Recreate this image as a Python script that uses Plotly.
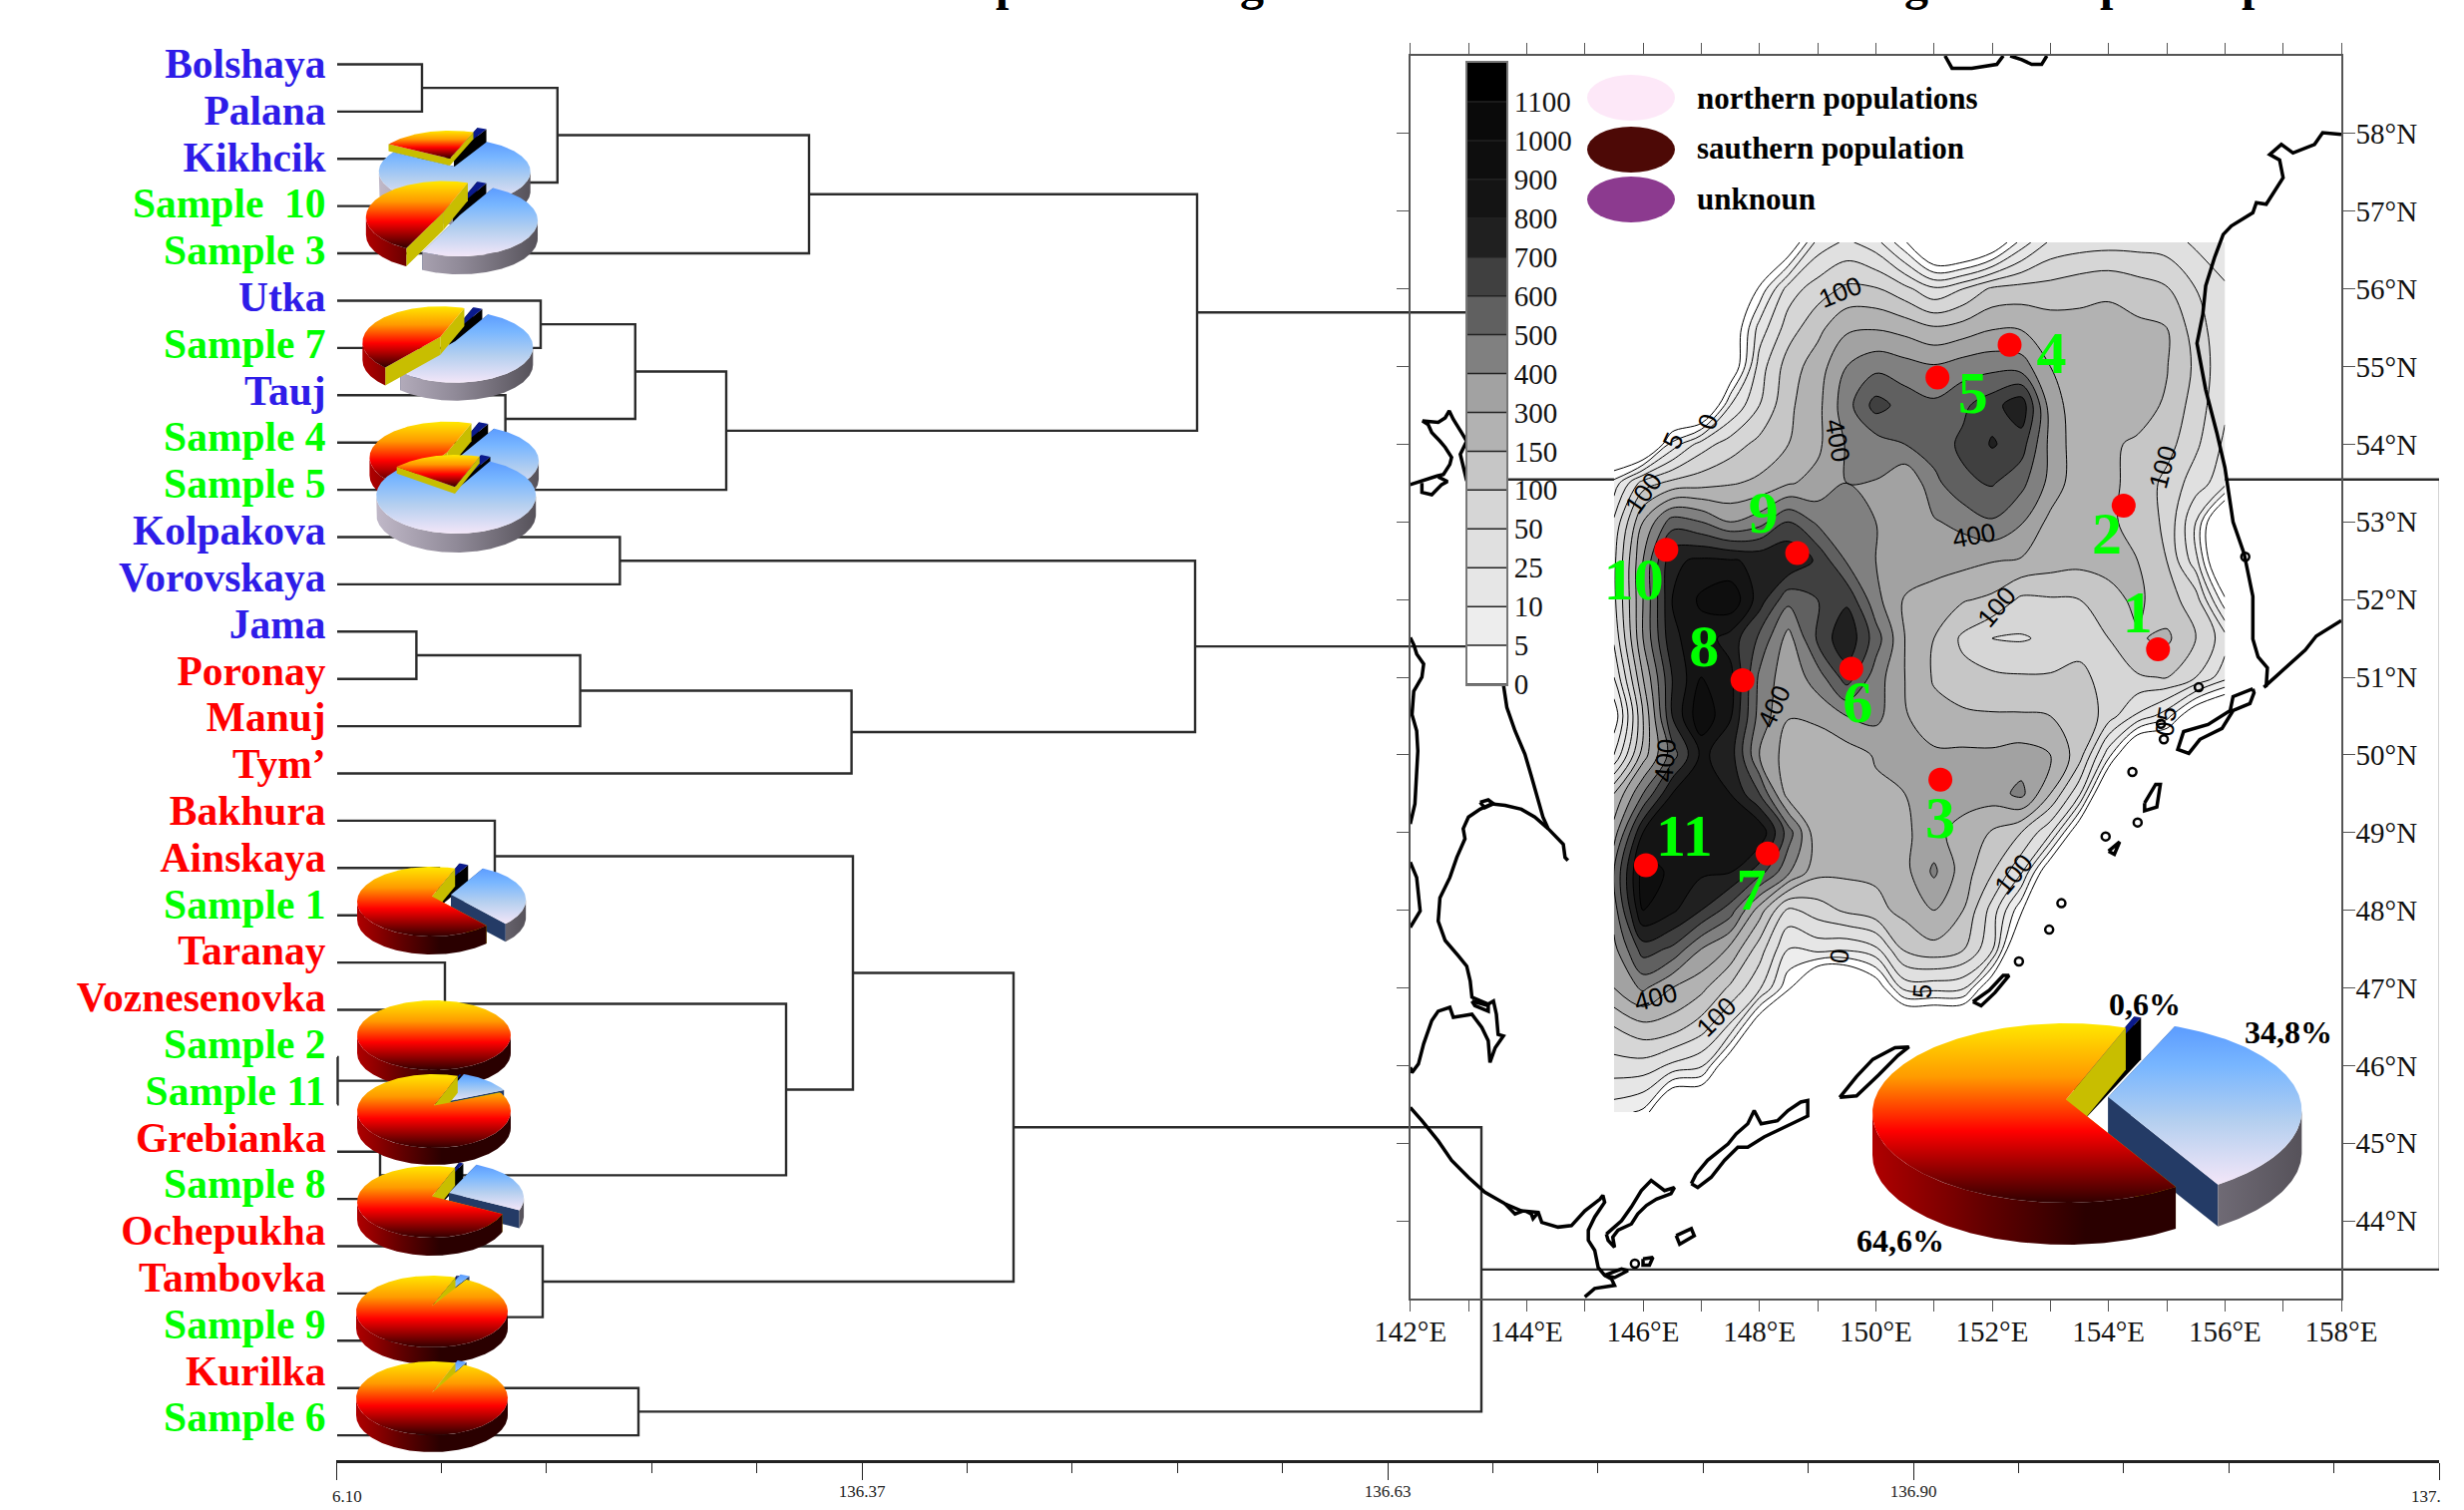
import math
import plotly.graph_objects as go

# ---------- dendrogram data ----------
LEAVES = ["Bolshaya","Palana","Kikhcik","Sample\u00a0 10","Sample 3","Utka","Sample 7","Tauj","Sample 4","Sample 5",
          "Kolpakova","Vorovskaya","Jama","Poronay","Manuj","Tym\u2019","Bakhura","Ainskaya","Sample 1","Taranay",
          "Voznesenovka","Sample 2","Sample 11","Grebianka","Sample 8","Ochepukha","Tambovka","Sample 9","Kurilka","Sample 6"]
LEAF_GROUP = ["n","n","n","s","s","n","s","n","s","s","n","n","n","r","r","r","r","r","s","r",
              "r","s","s","r","s","r","r","s","r","s"]
LEAF_BASE = 136.1005
# (left child, right child, distance); children: leaf index (int) or earlier merge ("m<k>")
MERGES = [
 (0,1,136.143),(2,3,136.1815),("m0","m1",136.2109),("m2",4,136.337),
 (5,6,136.2025),(7,8,136.1848),("m4","m5",136.2499),("m6",9,136.2955),
 ("m3","m7",136.5315),
 (10,11,136.2422),(12,13,136.1402),("m10",14,136.2223),("m11",15,136.3583),("m9","m12",136.5305),
 ("m8","m13",136.6715),
 (17,18,136.1515),(16,"m15",136.1795),(21,22,136.10075),(20,"m17",136.1465),(19,"m18",136.1545),
 (23,24,136.122),("m19","m20",136.3255),("m16","m21",136.359),
 (26,27,136.1665),(25,"m23",136.2035),("m22","m24",136.4395),
 (28,29,136.2515),("m25","m26",136.674),
 ("m14","m27",137.1545),
]
AXIS_MAJOR = [136.10,136.3635,136.627,136.8905,137.154]
AXIS_MINOR = [136.1527,136.2054,136.2581,136.3108,136.4162,136.4689,136.5216,136.5743,
              136.6797,136.7324,136.7851,136.8378,136.9432,136.9959,137.0486,137.1013]
AXIS_LABELS = ["","136.37","136.63","136.90",""]

# ---------- density field (level index: 0=0,1=5,2=10,3=25,4=50,5=100,6=150,7=300,8=400 ... 15=1100) ----------
LEVEL_LABELS = ["0","5","10","25","50","100","150","300","400","500","600","700","800","900","1000","1100"]
GRID_LON = [145.5+0.5*i for i in range(22)]
GRID_LAT = [56.6,56,55.5,55,54.5,54,53.5,53,52.5,52,51.5,51,50.5,50,49.5,49,48.5,48,47.5,47,46.5,46,45.4]
_ = -3
FIELD = [
[_,_,_,_,_,_,-1.5,2.4,3.2,2.4,0.2,_,_,-1.5,1.4,3.2,3.5,3.6,3.6,3.5,2.8,2],
[_,_,_,_,_,0.2,3.5,4.5,5.2,5.1,4.3,3.2,4,5.2,5.4,5.4,5.7,5.9,5.5,5.1,4,3.2],
[_,_,_,_,-1.5,2.4,4.5,5.7,6.8,6.9,6.6,6.1,6.4,6.9,6.9,6.5,6.3,6.2,6.2,6,4.5,3.2],
[_,_,_,_,-1.5,3.5,5.5,6.5,8,8.7,8.4,8.1,8.5,8.7,8.5,7,6.5,6.3,6.2,6.05,4.8,3.2],
[_,_,_,_,2,4,5.8,6.7,8.6,10.4,9.6,9.2,9.8,10.6,11.7,7.5,6.4,6.2,6.3,5.9,4.5,3.2],
[_,_,1.4,3.5,4.5,5.3,6,6.8,8.1,8.5,9,9.5,10.2,11.1,10.5,7.7,6.4,6.1,5.9,5.4,4.2,2.8],
[1.4,4.5,5.3,5.6,5.9,6.2,6.9,7.3,8,7.95,7.05,8.7,9.8,10.1,9.3,7.7,6.3,6.2,5.7,4.7,3.5,2.4],
[3.2,7,9.5,9,8,8.6,10,8.8,8.4,8,7.6,7.9,8.3,8.9,8.1,6.7,6.2,6.2,5.6,4.8,2,_],
[3.75,8,11.8,12.2,12.1,11.8,12,10.8,8.9,8,7.6,7.4,7.3,7.05,6.9,6.5,6.3,6.3,6.0,5.0,2.4,_],
[3.75,8,12,13.2,13.8,11.5,9.3,10,10.8,8.3,6.9,6.6,6.1,5.8,4.8,4.9,5,5.7,6.2,5.4,4.5,0.2],
[3.2,8,11.8,12.5,11.6,9.8,7.6,10.2,11.8,9.5,7,6,4.8,4,3.9,4.2,4.7,5,5.9,6.2,5,3.5],
[2,7,11,13,12.3,8.8,7.3,8.5,10.5,8.5,7,5.9,5.3,5.2,5.1,5.1,5.2,4.7,4.9,5.05,4,2.4],
[0.2,6,11,13.8,12.1,8.6,7.05,7.3,8,8.3,7.1,6.3,6.2,6.1,6.1,6,5.9,4.5,2.8,1.4,-1.5,_],
[2,6.5,9.5,12.2,11.5,8,6.5,6.1,6.5,7.1,7.3,7.2,7.2,7.2,7.4,7,5.5,1.4,_,_,_,_],
[6,9,12,13,12,10,6.5,6.4,6.5,6.8,7,7.2,7.5,7.5,8.3,6,3.2,_,_,_,_,_],
[7.5,12,12.6,12,12.4,12.8,9.5,6.2,6.3,6.5,6.9,7.3,6.6,5.9,5,3.2,-1.5,_,_,_,_,_],
[9,13.5,12.8,12.2,12.1,10.5,8.2,6.3,6.2,6.2,6.7,8.2,6.5,5.1,3.2,-1.5,_,_,_,_,_,_],
[8.5,13,12.2,11,9.5,6.5,3.75,4.5,5.2,5.7,6.3,7,6,3.6,0.2,_,_,_,_,_,_,_],
[7.7,10.5,9.8,8,6.8,4.5,2,2.4,2.2,2.8,5.2,5.7,5.1,3.2,_,_,_,_,_,_,_,_],
[7,8.2,7,6.3,4.8,3.2,0.2,_,_,-1,2.4,2.4,2.2,-1.5,_,_,_,_,_,_,_,_],
[5,5.7,5.5,4.5,2.8,-1.5,_,_,_,_,_,_,_,_,_,_,_,_,_,_,_,_],
[3.6,3.6,2.8,2.2,-1.5,_,_,_,_,_,_,_,_,_,_,_,_,_,_,_,_,_],
[1.4,0.8,_,_,_,_,_,_,_,_,_,_,_,_,_,_,_,_,_,_,_,_],
]
BAND_COLORS = ["rgba(255,255,255,0)","#FFFFFF","#EDEDED","#E6E6E6","#E0E0E0","#D6D6D6","#C6C6C6","#B2B2B2","#A2A2A2",
               "#808080","#606060","#404040","#202020","#141414","#0E0E0E","#0A0A0A","#000000"]

# ---------- sampling stations ----------
ST_LABEL = ["1","2","3","4","5","6","7","8","9","10","11"]
ST_LON = [154.85,154.26,151.11,152.3,151.06,149.58,148.14,147.71,148.65,146.4,146.05]
ST_LAT = [51.36,53.21,49.68,55.28,54.86,51.11,48.73,50.96,52.6,52.64,48.58]
NUM_LON = [154.5,153.97,151.11,153.02,151.67,149.69,147.86,147.05,148.07,145.84,146.71]
NUM_LAT = [51.77,52.78,49.12,55.11,54.59,50.61,48.2,51.33,53.05,52.2,48.9]

# ---------- coast lines (lon, lat) ----------
COASTS = [
 [(142.0,53.48),(142.2,53.53),(142.46,53.59),(142.57,53.61),(142.68,53.74),(142.71,53.83),(142.6,53.96),(142.51,54.04),(142.37,54.15),(142.31,54.25),(142.21,54.30),(142.48,54.28),(142.6,54.34),(142.67,54.43),(142.74,54.32),(142.88,54.15),(142.97,54.04),(142.86,53.87),(142.91,53.70),(142.97,53.53)],
 [(142.2,53.5),(142.2,53.38),(142.37,53.35),(142.54,53.48),(142.64,53.52),(142.48,53.58)],
 [(142.0,51.51),(142.06,51.42),(142.11,51.30),(142.23,51.17),(142.2,51.0),(142.06,50.82),(142.03,50.52),(142.11,50.31),(142.13,50.05),(142.11,49.71),(142.08,49.37),(142.0,49.11)],
 [(142.0,48.62),(142.11,48.42),(142.17,47.99),(142.0,47.78)],
 [(143.6,50.91),(143.66,50.61),(143.8,50.31),(143.97,50.01),(144.08,49.73),(144.17,49.49),(144.28,49.2),(144.37,49.05),(144.63,48.85),(144.66,48.68),(144.71,48.64)],
 [(144.37,49.05),(144.14,49.2),(143.91,49.3),(143.63,49.35),(143.4,49.37),(143.2,49.3),(143.0,49.2),(142.91,49.05),(142.94,48.92),(142.8,48.68),(142.68,48.42),(142.51,48.16),(142.48,47.86),(142.6,47.61),(142.83,47.41),(142.97,47.28),(143.03,47.09),(143.06,46.88),(143.34,46.79),(143.43,46.83),(143.48,46.66),(143.51,46.4),(143.6,46.38),(143.46,46.23),(143.37,46.04),(143.34,46.32),(143.23,46.49),(143.11,46.6),(143.06,46.66),(142.74,46.62),(142.68,46.75),(142.48,46.7),(142.37,46.58),(142.23,46.28),(142.14,46.02),(142.03,45.91),(142.0,45.98)],
 [(143.2,49.39),(143.34,49.42),(143.43,49.37),(143.28,49.32),(143.2,49.39)],
 [(143.06,46.83),(143.34,46.77),(143.34,46.7),(143.11,46.77),(143.06,46.83)],
 [(142.0,45.46),(142.2,45.29),(142.48,45.03),(142.71,44.78),(143.0,44.56),(143.28,44.37),(143.63,44.22),(143.91,44.13),(144.2,44.11),(144.26,43.98),(144.54,43.92),(144.77,43.94),(145.0,44.13),(145.26,44.28),(145.31,44.33),(145.34,44.24),(145.17,44.05),(145.06,43.88),(145.06,43.75),(145.17,43.62),(145.23,43.4),(145.34,43.3),(145.46,43.25),(145.51,43.17),(145.17,43.13),(145.0,43.02)],
 [(143.63,44.22),(143.68,44.18),(143.8,44.09),(143.94,44.13)],
 [(144.0,44.12),(144.08,44.09),(144.11,44.03),(144.2,44.11)],
 [(145.34,43.3),(145.63,43.38),(145.74,43.36),(145.51,43.27),(145.34,43.3)],
 [(145.37,43.83),(145.63,44.0),(145.8,44.18),(145.97,44.39),(146.14,44.52),(146.37,44.39),(146.54,44.43),(146.48,44.35),(146.23,44.28),(146.06,44.2),(145.91,44.09),(145.8,43.96),(145.57,43.88),(145.48,43.79),(145.51,43.66),(145.4,43.75),(145.37,43.83)],
 [(146.83,44.48),(146.91,44.6),(147.11,44.78),(147.46,44.99),(147.6,45.12),(147.8,45.25),(147.91,45.42),(148.03,45.25),(148.31,45.29),(148.49,45.42),(148.71,45.53),(148.83,45.55),(148.83,45.35),(148.43,45.2),(148.08,45.08),(147.8,44.95),(147.63,44.95),(147.4,44.78),(147.17,44.56),(146.94,44.43),(146.83,44.48)],
 [(149.38,45.59),(149.67,45.86),(149.95,46.08),(150.33,46.23),(150.57,46.24),(150.38,46.13),(150.05,45.88),(149.67,45.61),(149.38,45.59)],
 [(146.57,43.81),(146.83,43.9),(146.88,43.81),(146.63,43.7),(146.57,43.81)],
 [(146.0,43.51),(146.17,43.53),(146.11,43.43),(146.0,43.43),(146.0,43.51)],
 [(151.67,46.82),(151.95,46.97),(152.19,47.16),(152.29,47.16),(152.05,46.94),(151.81,46.77),(151.67,46.82)],
 [(154.0,48.76),(154.19,48.88),(154.1,48.72),(154.0,48.76)],
 [(154.62,49.38),(154.81,49.62),(154.89,49.62),(154.83,49.33),(154.62,49.28),(154.62,49.38)],
 [(151.19,59.0),(151.31,58.84),(151.65,58.84),(152.08,58.89),(152.19,59.0)],
 [(152.31,59.0),(152.51,58.95),(152.68,58.89),(152.85,58.89),(152.94,59.0)],
 [(158.0,57.99),(157.68,58.01),(157.54,57.86),(157.17,57.75),(156.97,57.86),(156.77,57.73),(156.94,57.66),(157.0,57.43),(156.71,57.09),(156.54,57.11),(156.48,56.98),(156.11,56.81),(155.97,56.7),(155.82,56.4),(155.67,56.04),(155.62,55.67),(155.52,55.3),(155.67,54.7),(155.86,54.15),(156.0,53.7),(156.14,53.0),(156.33,52.59),(156.48,52.04),(156.48,51.49),(156.57,51.26),(156.73,51.12),(156.71,50.89),(156.67,50.87),(157.38,51.35),(157.57,51.53),(158.0,51.73)],
 [(156.48,50.85),(156.14,50.75),(156.09,50.57),(155.71,50.39),(155.29,50.3),(155.19,50.07),(155.38,50.02),(155.57,50.2),(155.95,50.34),(156.14,50.57),(156.43,50.66),(156.5,50.8),(156.48,50.85)],
]
ISLET_LON = [152.46,152.98,153.19,154.5,154.41,153.95,155.55,154.9,154.95,156.35,145.86]
ISLET_LAT = [47.34,47.75,48.09,49.13,49.78,48.95,50.87,50.4,50.2,52.55,43.45]

# ---------- pie shares ----------
PIE_NAMES = ["Sample 10","Sample 3","Sample 7","Sample 4","Sample 5","Sample 1","Sample 2","Sample 11","Sample 8","Sample 9","Sample 6","All"]
PIE_SOUTH = [0.20,0.47,0.425,0.45,0.18,0.68,1.0,0.885,0.745,0.975,0.98,0.646]
PIE_UNKN  = [0.02,0.02,0.02,0.02,0.02,0.02,0.0,0.005,0.01,0.005,0.0,0.006]
PIE_NORTH = [0.78,0.51,0.555,0.53,0.80,0.30,0.0,0.11,0.245,0.02,0.02,0.348]

# placement of pies in page pixels: cx, cy, rx, ry, depth, explode north, explode south
PIE_PLACE = [
 (451,164,76,33,20,0.25,0.0),(452,219,78,36,18,0.13,0.10),(448,345,78,36,18,0.13,0.10),(454,460,78,36,18,0.12,0.08),
 (456,494,80,38,19,0.08,0.0),(433,904,75,35,18,0.26,0.0),(435,1038,77,35,18,0,0),(435,1114,77,37,17,0.08,0),
 (433,1205,75,36,18,0.25,0),(433,1315,76,36,17,0.1,0),(433,1402,76,37,17,0.08,0),(2071,1116,194,90,42,0.22,0),
]

SERIF = "Liberation Serif"
WIDTH, HEIGHT = 2470, 1514
fig = go.Figure()

# ---------- dendrogram ----------
LEAF_COLOR = {"n":"#2E1CE8","r":"#FF0000","s":"#00FF00"}
pos = {}
dx, dy = [], []
def node(c):
    if isinstance(c, int):
        return LEAF_BASE, float(c)
    return pos[c]
for k, (a, b, h) in enumerate(MERGES):
    xa, ya = node(a); xb, yb = node(b)
    dx += [xa, h, h, xb, None]; dy += [ya, ya, yb, yb, None]
    pos["m%d" % k] = (h, (ya + yb) / 2)
fig.add_trace(go.Scatter(x=dx, y=dy, mode="lines", line=dict(color="#2b2b2b", width=2.4), xaxis="x", yaxis="y", hoverinfo="skip", cliponaxis=False))
# the printed names drift slightly from their branches in the source figure
LABEL_ROW = [0.068 + 0.9874 * i for i in range(len(LEAVES))]
fig.add_trace(go.Scatter(x=[136.10]*len(LEAVES), y=LABEL_ROW, mode="text", text=[t + "\u00a0" for t in LEAVES],
    textposition="middle left", textfont=dict(family=SERIF, size=41.5, color=[LEAF_COLOR[g] for g in LEAF_GROUP], weight="bold"),
    xaxis="x", yaxis="y", cliponaxis=False, hoverinfo="skip"))

# ---------- density map ----------
fig.add_trace(go.Contour(x=GRID_LON, y=GRID_LAT[::-1], z=FIELD[::-1], xaxis="x2", yaxis="y2",
    zmin=-3, zmax=16, autocontour=False, contours=dict(start=0, end=15, size=1, coloring="fill", showlines=True),
    line=dict(color="#000000", width=1, smoothing=1), showscale=False, hoverinfo="skip",
    colorscale=[[k/16, c] for k, c in enumerate(BAND_COLORS)]))
for seg in COASTS:
    fig.add_trace(go.Scatter(x=[p[0] for p in seg], y=[p[1] for p in seg], mode="lines", xaxis="x2", yaxis="y2",
        line=dict(color="#000000", width=3.5), hoverinfo="skip"))
fig.add_trace(go.Scatter(x=ISLET_LON, y=ISLET_LAT, mode="markers", xaxis="x2", yaxis="y2", hoverinfo="skip",
    marker=dict(symbol="circle-open", size=8, color="#000000", line=dict(width=2.5, color="#000000"))))
fig.add_trace(go.Scatter(x=ST_LON, y=ST_LAT, mode="markers", xaxis="x2", yaxis="y2", hoverinfo="skip",
    marker=dict(size=24, color="#FF0000", line=dict(width=0))))
fig.add_trace(go.Scatter(x=NUM_LON, y=NUM_LAT, mode="text", text=ST_LABEL, xaxis="x2", yaxis="y2", hoverinfo="skip",
    cliponaxis=False, textposition="middle center", textfont=dict(family=SERIF, size=60, color="#00FF00", weight="bold")))

# ---------- density scale ----------
fig.add_trace(go.Contour(x=[0,1], y=[0,16], z=[[0,0],[16,16]], xaxis="x3", yaxis="y3", zmin=-1, zmax=16, autocontour=False,
    contours=dict(start=0, end=15, size=1, coloring="fill", showlines=True), line=dict(color="#222222", width=1.5),
    showscale=False, hoverinfo="skip", colorscale=[[k/16, c] for k, c in enumerate(BAND_COLORS)]))

# ---------- pseudo 3-D pies ----------
S_TOP = [[0,"#FFE800"],[0.3,"#FF9A00"],[0.6,"#FF0000"],[1,"#300000"]]
N_TOP = [[0,"#5C9CFF"],[0.25,"#78B6FF"],[0.6,"#B4CFEF"],[1,"#F3E6F8"]]
U_TOP = [[0,"#0A1A8C"],[1,"#0A1A8C"]]
S_RIM = [[0,"#B00000"],[0.3,"#600000"],[0.55,"#2A0000"],[1,"#2A0000"]]
N_RIM = [[0,"#C0B8C8"],[0.5,"#908A98"],[1,"#56525A"]]
U_RIM = [[0,"#000000"],[1,"#000000"]]
START_ANGLE = 18.0
APEX_LIFT = 0.15

def poly(xs, ys, gradient=None, color=None, horizontal=None, start=None, stop=None):
    kw = dict(x=xs, y=ys, mode="lines", line=dict(width=0), fill="toself", xaxis="x4", yaxis="y4", hoverinfo="skip")
    if gradient:
        kw["fillgradient"] = dict(type="horizontal" if horizontal else "vertical", colorscale=gradient, start=start, stop=stop)
    else:
        kw["fillcolor"] = color
    fig.add_trace(go.Scatter(**kw))

def wedge(cx, cy, rx, ry, depth, t0, t1, k, top, rim, cut, cut_depth):
    mid = math.radians((t0 + t1) / 2)
    ox = cx + k * rx * math.sin(mid)
    oy = cy - k * ry * math.cos(mid)
    ax, ay = ox, oy - APEX_LIFT * ry
    def P(t):
        r = math.radians(t)
        return ox + rx * math.sin(r), oy - ry * math.cos(r)
    full = (t1 - t0) >= 359.9
    if not full:
        for t in (t0, t1):
            px, py = P(t)
            poly([ax, px, px, ax, ax], [ay, py, py + cut_depth, ay + cut_depth, ay], color=cut)
    lo, hi = max(t0, 90), min(t1, 270)
    if hi > lo:
        n = max(8, int(hi - lo))
        arc = [P(lo + (hi - lo) * i / n) for i in range(n + 1)]
        xs = [p[0] for p in arc] + [p[0] for p in arc[::-1]] + [arc[0][0]]
        ys = [p[1] for p in arc] + [p[1] + depth for p in arc[::-1]] + [arc[0][1]]
        poly(xs, ys, gradient=rim, horizontal=True, start=ox - rx, stop=ox + rx)
    n = max(8, int(t1 - t0))
    arc = [P(t0 + (t1 - t0) * i / n) for i in range(n + 1)]
    if full:
        xs = [p[0] for p in arc]; ys = [p[1] for p in arc]
    else:
        xs = [ax] + [p[0] for p in arc] + [ax]; ys = [ay] + [p[1] for p in arc] + [ay]
    poly(xs, ys, gradient=top, start=min(ys), stop=max(ys))

for s, u, n, place in zip(PIE_SOUTH, PIE_UNKN, PIE_NORTH, PIE_PLACE):
    cx, cy, rx, ry, depth, kn, ks = place
    a = START_ANGLE
    if u > 0:
        wedge(cx, cy, rx, ry, depth, a, a + u * 360, kn * 0.6, U_TOP, U_RIM, "#000000", depth)
    a += u * 360
    if n > 0:
        wedge(cx, cy, rx, ry, depth, a, a + n * 360, kn, N_TOP, N_RIM, "#243B66", depth)
    a += n * 360
    if s > 0:
        if s >= 0.999:
            wedge(cx, cy, rx, ry, depth, 90, 450, 0, S_TOP, S_RIM, "#C8BE00", depth)
        else:
            wedge(cx, cy, rx, ry, depth, a, START_ANGLE + 360, ks, S_TOP, S_RIM, "#C8BE00", depth * (0.35 if s < 0.3 else 1))

# ---------- text placed on the page ----------
ann = []
def T(x, y, text, size, color="#000000", family=SERIF, weight="normal", angle=0, xa="center", ya="middle"):
    ann.append(dict(x=x, y=y, xref="x4", yref="y4", text=text, showarrow=False, textangle=angle, xanchor=xa, yanchor=ya,
                    font=dict(family=family, size=size, color=color, weight=weight)))

for x, ch in [(1011,"p"),(1255,"g"),(1921,"g"),(2118,"p"),(2260,"p")]:
    T(x, 12, ch, 48, weight="bold", ya="bottom")
for y, txt in [(98,"northern populations"),(148,"sauthern population"),(199,"unknoun")]:
    T(1699, y, txt, 31, weight="bold", xa="left")
T(2150, 1007, "0,6%", 32, weight="bold")
T(2294, 1035, "34,8%", 32, weight="bold")
T(1905, 1244, "64,6%", 32, weight="bold")
T(331, 1500, "6.10", 17, xa="left", color="#222222")
T(2449, 1500, "137.", 17, xa="right", color="#222222")
for x, y, t, a in [(1844,293,"100",-22),(1677,442,"5",-65),(1712,423,"0",-70),(1647,495,"100",-55),(1842,441,"400",80),
                   (1978,537,"400",-10),(2168,469,"100",-75),(2001,609,"100",-50),(1778,709,"400",-65),(1669,763,"400",-85),
                   (2018,877,"100",-50),(1844,959,"0",-85),(1927,994,"5",-85),(1659,1000,"400",-15),(1720,1020,"100",-45),
                   (2172,716,"5",-80),(2170,731,"0",-80)]:
    T(x, y, t, 26, family="Liberation Sans", angle=a)

shapes = []
for y, c in [(98,"#FDE8F8"),(150,"#4D0906"),(200,"#8C3A8F")]:
    shapes.append(dict(type="circle", xref="x4", yref="y4", x0=1635-44, x1=1635+44, y0=y-23, y1=y+23,
                       fillcolor=c, line=dict(width=0)))

FRAME = "#555555"
fig.update_layout(
    width=WIDTH, height=HEIGHT, autosize=False, margin=dict(l=0, r=0, t=0, b=0, pad=0, autoexpand=False),
    paper_bgcolor="#FFFFFF", plot_bgcolor="rgba(0,0,0,0)", showlegend=False, annotations=ann, shapes=shapes,
    font=dict(family=SERIF, color="#111111"),
    xaxis=dict(domain=[337/WIDTH, 2445/WIDTH], range=[136.10, 137.154], anchor="free", position=49/HEIGHT, side="bottom",
               showgrid=False, zeroline=False, showline=True, linecolor="#222222", linewidth=3,
               tickmode="array", tickvals=AXIS_MAJOR, ticktext=AXIS_LABELS, ticks="outside", ticklen=17, tickwidth=1.2, tickcolor="#222222",
               tickfont=dict(size=17, family=SERIF, color="#222222"), ticklabelstandoff=-3,
               minor=dict(tickmode="array", tickvals=AXIS_MINOR, ticks="outside", ticklen=10, tickwidth=1.2, tickcolor="#222222")),
    yaxis=dict(domain=[0, 1], range=[30.58, -1.36], visible=False, anchor="x", fixedrange=True),
    xaxis2=dict(domain=[1413.7/WIDTH, 2347/WIDTH], range=[142, 158], anchor="y2", side="bottom", showgrid=False, zeroline=False,
                showline=True, linecolor=FRAME, linewidth=1.5, mirror="ticks", tick0=142, dtick=2, ticksuffix="\u00b0E",
                ticks="outside", ticklen=11, tickwidth=1.2, tickcolor=FRAME, tickfont=dict(size=29, family=SERIF, color="#111111"),
                ticklabelstandoff=-5,
                minor=dict(dtick=1, tick0=142, ticks="outside", ticklen=11, tickwidth=1.2, tickcolor=FRAME)),
    yaxis2=dict(domain=[(HEIGHT-1302)/HEIGHT, (HEIGHT-56)/HEIGHT], range=[43, 59], anchor="x2", side="right", showgrid=False, zeroline=False,
                showline=True, linecolor=FRAME, linewidth=1.5, mirror="ticks", tickmode="array",
                tickvals=list(range(44, 59)), ticktext=["%d\u00b0N" % v for v in range(44, 59)],
                ticks="outside", ticklen=12, tickwidth=1.2, tickcolor=FRAME, tickfont=dict(size=29, family=SERIF, color="#111111"),
                ticklabelstandoff=-5),
    xaxis3=dict(domain=[1471/WIDTH, 1510/WIDTH], range=[0, 1], anchor="y3", showgrid=False, zeroline=False, showticklabels=False,
                ticks="", showline=True, linecolor="#777777", linewidth=2, mirror=True),
    yaxis3=dict(domain=[(HEIGHT-686)/HEIGHT, (HEIGHT-63)/HEIGHT], range=[0, 16], anchor="x3", side="right", showgrid=False, zeroline=False,
                showline=True, linecolor="#777777", linewidth=2, mirror=True, ticks="", tickmode="array",
                tickvals=list(range(16)), ticktext=LEVEL_LABELS, tickfont=dict(size=29, family=SERIF, color="#111111")),
    xaxis4=dict(domain=[0, 1], range=[0, WIDTH], anchor="y4", visible=False, fixedrange=True),
    yaxis4=dict(domain=[0, 1], range=[HEIGHT, 0], anchor="x4", visible=False, fixedrange=True),
)
fig.write_html("out.html", config=dict(displayModeBar=False),
               post_script="document.body.style.margin='0';document.body.style.overflow='hidden';")
